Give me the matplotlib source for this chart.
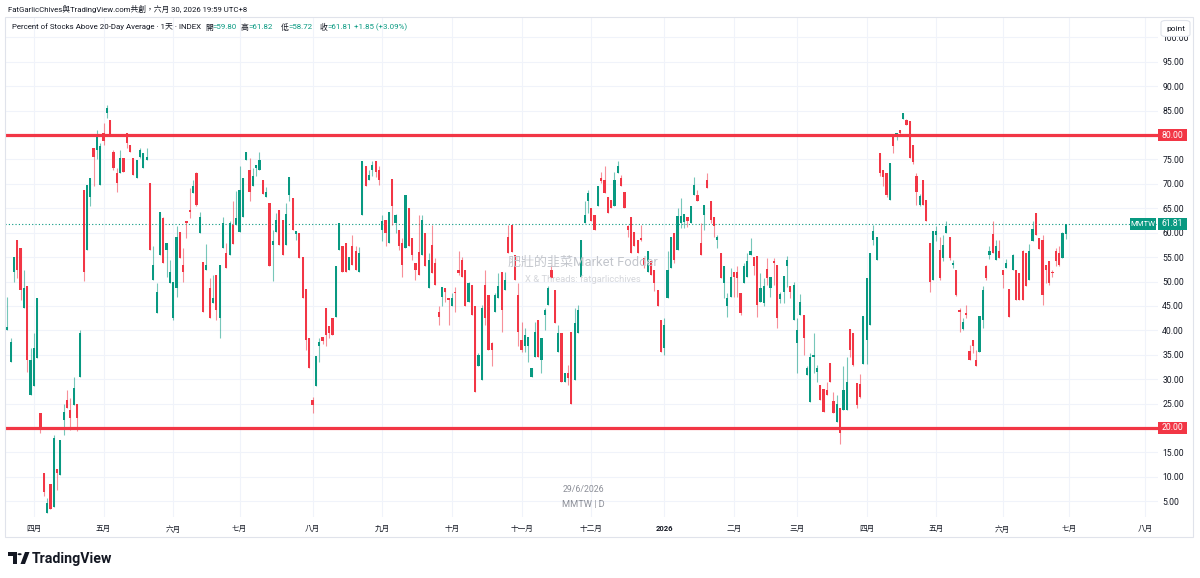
import numpy as np
import matplotlib
matplotlib.use('Agg')
import matplotlib.pyplot as plt
from matplotlib.patches import Rectangle, FancyBboxPatch, Polygon, Circle
from matplotlib.ticker import FixedLocator, FuncFormatter

# ---------------- data ----------------
opens = [
    40.0, 33.6, 52.0, 58.5, 56.8, 44.5, 49.0, 26.8, 28.5, 34.3,
    23.0, 10.7, 2.5, 8.6, 3.8, 11.7, 10.3, 21.6, 25.7, 23.7,
    24.7, 25.0, 30.5, 68.8, 56.5, 67.4, 77.3, 77.0, 69.8, 80.4,
    84.5, 83.1, 76.6, 72.2, 72.2, 75.3, 80.4, 78.0, 75.3, 71.2,
    75.6, 73.2, 74.9, 70.2, 50.3, 43.5, 55.5, 63.0, 56.5, 49.6,
    42.5, 48.6, 60.2, 53.4, 62.4, 64.7, 68.1, 72.2, 59.9, 53.9,
    52.4, 48.6, 45.5, 51.4, 42.5, 56.9, 55.8, 55.5, 61.6, 61.6,
    60.2, 63.3, 74.9, 72.9, 69.5, 73.2, 72.9, 70.8, 67.4, 66.1,
    57.5, 60.2, 64.7, 62.6, 57.5, 67.8, 67.1, 59.8, 59.9, 55.1,
    48.4, 38.4, 25.7, 28.5, 36.7, 38.7, 44.5, 40.8, 42.5, 42.8,
    56.5, 57.2, 57.9, 52.4, 57.2, 56.2, 51.9, 63.7, 73.6, 70.8,
    72.9, 74.6, 72.9, 60.6, 62.6, 57.9, 71.0, 62.0, 60.6, 57.9,
    56.9, 65.0, 58.9, 53.8, 56.0, 55.5, 59.9, 48.6, 57.5, 53.8,
    43.8, 46.9, 48.6, 46.6, 44.9, 47.9, 52.4, 54.4, 52.4, 45.9,
    49.3, 44.9, 32.6, 29.8, 49.3, 47.3, 37.4, 43.8, 46.6, 52.0,
    48.3, 59.2, 61.6, 55.5, 47.3, 38.0, 36.7, 36.7, 30.5, 34.6,
    42.1, 33.9, 43.2, 45.2, 52.4, 48.3, 35.6, 39.4, 29.5, 31.2,
    39.7, 29.8, 39.4, 51.0, 62.0, 66.4, 65.0, 63.7, 65.4, 71.2,
    70.8, 67.4, 66.7, 65.4, 72.2, 71.2, 68.4, 61.4, 63.3, 60.2,
    58.5, 58.9, 54.8, 52.0, 54.1, 52.4, 48.3, 42.1, 36.3, 46.6,
    52.7, 59.9, 56.5, 62.0, 62.2, 63.3, 61.9, 67.8, 67.8, 57.9,
    63.7, 70.8, 66.4, 63.3, 58.5, 55.8, 49.6, 44.9, 46.9, 52.0,
    52.0, 47.6, 49.6, 51.0, 55.5, 55.1, 55.3, 45.9, 45.5, 52.6,
    48.6, 54.1, 53.3, 46.4, 47.9, 53.1, 49.0, 42.1, 37.5, 43.1,
    43.2, 30.9, 25.4, 34.6, 31.5, 28.8, 28.0, 27.8, 33.4, 25.6,
    21.3, 24.0, 23.7, 23.7, 40.2, 39.4, 29.2, 29.0, 33.2, 38.0,
    41.1, 58.5, 54.4, 76.3, 72.9, 72.2, 66.7, 79.7, 79.7, 81.1,
    83.3, 83.1, 82.8, 78.0, 71.7, 65.7, 70.8, 66.7, 57.9, 50.3,
    59.6, 56.5, 54.8, 59.9, 59.2, 53.4, 52.4, 44.2, 40.2, 43.6,
    35.8, 38.0, 33.9, 35.6, 42.1, 53.1, 55.5, 59.8, 54.4, 56.3,
    52.3, 52.7, 48.4, 52.4, 52.4, 51.7, 56.2, 55.8, 50.3, 58.2,
    64.0, 58.9, 58.5, 53.4, 54.1, 52.0, 56.2, 55.8, 54.8, 59.80]

highs = [
    46.9, 38.4, 55.1, 58.5, 56.8, 52.4, 49.0, 36.3, 39.4, 46.6,
    23.0, 10.7, 5.6, 8.6, 18.6, 11.7, 17.5, 25.0, 27.8, 26.1,
    30.5, 25.0, 40.1, 68.8, 69.8, 71.2, 77.3, 81.1, 78.4, 82.5,
    86.2, 83.1, 77.0, 73.2, 77.0, 75.3, 80.4, 78.0, 75.3, 74.9,
    77.3, 76.3, 77.3, 70.2, 57.2, 49.6, 64.3, 63.3, 57.9, 54.4,
    50.0, 61.3, 60.2, 56.8, 62.4, 69.1, 70.8, 72.5, 64.3, 53.9,
    57.7, 50.7, 51.4, 51.4, 53.4, 63.3, 57.9, 62.3, 66.4, 68.5,
    73.6, 71.2, 76.6, 75.3, 73.2, 73.9, 76.6, 70.8, 69.3, 66.1,
    60.6, 64.0, 64.7, 62.6, 66.1, 71.4, 67.1, 60.3, 59.9, 55.1,
    48.4, 38.4, 26.4, 34.8, 38.4, 38.7, 44.5, 40.8, 42.5, 53.1,
    62.0, 57.2, 57.9, 55.1, 59.6, 57.2, 57.1, 74.6, 73.6, 72.9,
    74.6, 74.6, 73.6, 63.7, 62.6, 64.3, 71.0, 63.9, 60.6, 58.9,
    67.8, 65.0, 58.9, 53.8, 63.7, 63.7, 59.9, 55.8, 61.6, 54.8,
    44.9, 48.8, 48.6, 46.6, 47.6, 48.9, 56.2, 55.1, 52.4, 50.0,
    49.3, 44.9, 35.3, 45.2, 52.4, 47.3, 37.7, 47.6, 51.7, 52.0,
    52.0, 61.6, 61.6, 55.5, 49.6, 41.8, 40.4, 38.7, 32.2, 41.8,
    42.1, 38.4, 44.5, 49.0, 53.4, 48.3, 41.1, 39.4, 31.2, 32.9,
    39.7, 44.5, 45.2, 58.5, 66.4, 68.8, 65.0, 63.7, 69.5, 72.5,
    73.6, 67.4, 66.7, 72.5, 74.6, 71.9, 68.4, 61.6, 63.3, 60.2,
    58.5, 61.6, 54.8, 56.2, 54.1, 52.4, 48.3, 42.1, 42.5, 56.2,
    59.2, 59.9, 65.0, 67.1, 63.8, 63.3, 65.5, 71.5, 68.8, 62.0,
    65.7, 72.2, 66.4, 63.3, 59.6, 55.8, 53.1, 47.6, 52.7, 52.0,
    53.1, 47.6, 53.8, 55.8, 58.9, 55.1, 55.3, 51.8, 50.7, 54.8,
    51.0, 54.8, 53.3, 47.9, 51.1, 55.3, 49.0, 50.0, 42.5, 47.4,
    43.2, 32.6, 35.3, 39.4, 32.9, 28.8, 28.0, 29.5, 33.4, 27.4,
    26.8, 24.0, 32.6, 34.6, 40.2, 39.4, 29.2, 31.1, 43.0, 50.8,
    55.9, 61.6, 59.1, 76.3, 72.9, 72.2, 74.3, 79.7, 80.4, 81.1,
    84.5, 83.3, 82.8, 78.0, 72.2, 68.0, 70.8, 66.7, 57.9, 60.3,
    61.4, 59.2, 59.6, 62.3, 59.2, 54.4, 52.4, 44.5, 42.5, 45.2,
    37.0, 38.0, 35.9, 43.0, 49.0, 53.4, 57.3, 62.3, 58.5, 58.5,
    52.3, 54.6, 48.4, 55.7, 52.4, 51.7, 56.4, 55.8, 57.7, 62.3,
    64.0, 58.9, 59.5, 53.4, 54.1, 52.4, 56.8, 57.2, 60.2, 61.82]

lows = [
    40.0, 33.6, 50.0, 50.7, 46.2, 44.5, 31.5, 26.8, 28.5, 34.3,
    18.9, 6.0, 2.5, 3.5, 3.8, 7.3, 10.3, 18.6, 24.0, 19.6,
    24.7, 19.3, 30.5, 50.2, 56.5, 65.4, 69.5, 75.0, 69.8, 78.0,
    83.5, 80.1, 72.9, 68.4, 72.2, 72.5, 77.3, 76.6, 71.9, 71.2,
    75.3, 73.2, 74.9, 56.5, 50.3, 43.5, 55.5, 53.8, 51.0, 49.6,
    42.2, 46.9, 54.8, 50.0, 58.9, 63.0, 68.1, 65.4, 59.9, 43.8,
    52.4, 42.5, 45.5, 42.1, 38.4, 56.9, 52.7, 55.5, 57.6, 61.6,
    60.2, 63.3, 74.9, 66.4, 69.5, 71.7, 72.9, 68.0, 67.3, 53.2,
    50.1, 60.2, 57.5, 55.5, 57.5, 66.4, 60.6, 58.5, 54.8, 46.6,
    36.0, 32.2, 23.1, 28.5, 33.6, 37.2, 36.7, 38.4, 39.1, 42.8,
    56.5, 52.0, 52.0, 52.4, 53.4, 52.4, 51.9, 63.7, 69.5, 70.8,
    71.7, 71.5, 69.8, 58.2, 57.2, 57.9, 61.6, 59.9, 56.5, 51.0,
    56.9, 57.2, 54.4, 50.3, 51.4, 55.5, 53.1, 48.6, 51.7, 49.3,
    41.1, 44.9, 45.9, 41.1, 44.9, 43.8, 51.4, 51.0, 44.9, 45.9,
    43.2, 27.4, 32.6, 29.8, 41.1, 36.0, 32.6, 43.8, 46.6, 39.7,
    48.3, 55.8, 56.0, 50.3, 36.7, 35.6, 35.6, 33.6, 30.5, 34.6,
    34.6, 31.2, 40.1, 45.2, 50.7, 41.5, 35.6, 29.5, 29.5, 28.8,
    25.0, 29.8, 39.4, 51.0, 62.0, 64.0, 62.3, 60.6, 65.4, 70.2,
    68.1, 64.0, 65.0, 65.4, 72.2, 69.5, 65.0, 59.2, 55.8, 57.2,
    55.8, 58.2, 52.7, 52.0, 51.4, 48.0, 44.9, 35.6, 34.9, 46.6,
    52.7, 53.8, 56.5, 60.9, 60.9, 61.2, 61.9, 67.8, 66.4, 55.5,
    60.6, 69.1, 62.0, 59.2, 56.8, 50.7, 46.6, 42.8, 46.9, 46.9,
    46.9, 43.2, 49.6, 51.0, 55.5, 51.4, 42.8, 45.9, 44.9, 49.3,
    46.9, 49.3, 40.4, 45.5, 45.5, 48.9, 46.6, 42.1, 31.2, 43.1,
    35.0, 30.9, 25.4, 31.2, 29.5, 25.7, 23.3, 26.8, 29.5, 23.0,
    21.3, 16.8, 23.7, 23.7, 34.6, 32.6, 24.0, 26.1, 33.2, 33.2,
    41.1, 57.5, 54.4, 71.7, 69.5, 67.4, 66.7, 76.3, 79.0, 79.7,
    83.3, 82.1, 75.3, 74.1, 65.7, 65.5, 65.7, 62.3, 47.9, 50.3,
    58.2, 50.3, 54.1, 59.9, 54.4, 52.7, 47.1, 39.7, 40.1, 42.5,
    33.9, 35.3, 32.6, 35.6, 40.4, 50.3, 54.6, 55.8, 54.4, 54.8,
    48.6, 52.7, 42.8, 52.4, 46.2, 46.2, 46.2, 49.0, 50.3, 58.2,
    59.6, 56.6, 45.2, 49.6, 49.3, 51.0, 53.1, 53.2, 54.8, 58.72]

closes = [
    40.6, 37.6, 55.1, 52.4, 48.3, 48.6, 33.9, 33.9, 36.3, 46.6,
    19.5, 6.9, 4.7, 3.5, 17.9, 10.7, 17.5, 23.3, 24.0, 22.0,
    28.1, 22.0, 39.4, 52.0, 69.8, 71.2, 75.6, 79.7, 77.7, 78.7,
    85.5, 80.1, 73.2, 70.2, 75.3, 72.5, 78.4, 76.6, 71.9, 74.9,
    77.0, 76.3, 75.6, 56.5, 53.4, 47.9, 64.3, 53.8, 57.9, 52.0,
    50.0, 59.2, 54.8, 52.0, 62.0, 64.3, 69.5, 65.7, 63.3, 43.8,
    53.4, 42.5, 46.6, 44.2, 53.4, 62.0, 52.7, 62.0, 57.6, 63.0,
    68.8, 71.2, 76.6, 68.4, 71.7, 73.9, 74.9, 68.0, 68.4, 53.2,
    58.2, 62.6, 57.5, 55.5, 63.8, 71.4, 60.6, 60.3, 54.8, 46.6,
    38.0, 32.2, 24.7, 34.8, 37.6, 37.9, 39.1, 39.4, 39.1, 53.1,
    62.0, 52.0, 52.0, 55.1, 53.4, 52.4, 55.8, 74.6, 69.5, 71.9,
    73.9, 72.5, 70.8, 62.3, 59.9, 64.3, 65.4, 63.7, 57.2, 53.4,
    67.8, 57.2, 55.5, 52.4, 51.4, 62.6, 53.1, 54.4, 51.7, 49.3,
    42.8, 48.8, 47.9, 46.2, 46.6, 47.6, 51.7, 51.0, 44.9, 49.6,
    43.2, 27.4, 35.0, 44.5, 42.5, 36.0, 36.0, 47.3, 49.0, 44.2,
    50.3, 55.8, 56.0, 50.3, 39.7, 36.0, 39.1, 38.7, 32.2, 39.7,
    34.6, 38.4, 44.2, 48.6, 50.7, 41.5, 39.4, 29.5, 31.2, 30.2,
    25.0, 41.5, 44.2, 58.5, 63.7, 68.1, 62.3, 60.6, 69.5, 70.5,
    68.1, 64.0, 65.0, 70.8, 73.6, 69.5, 65.0, 60.6, 55.8, 57.2,
    55.8, 58.4, 53.4, 56.2, 51.4, 49.6, 44.9, 35.6, 41.1, 52.4,
    59.2, 54.4, 63.5, 63.5, 63.8, 62.3, 65.5, 69.8, 66.4, 55.5,
    65.7, 69.1, 62.6, 61.3, 59.2, 50.7, 53.1, 46.6, 51.0, 51.0,
    50.8, 43.5, 53.2, 54.1, 56.2, 53.1, 45.2, 48.6, 49.0, 50.7,
    51.0, 53.8, 42.5, 47.4, 51.1, 54.4, 47.9, 49.3, 40.1, 45.9,
    38.4, 32.2, 34.6, 35.0, 32.2, 25.7, 23.3, 26.8, 29.5, 23.0,
    25.0, 18.9, 27.8, 29.5, 36.0, 32.9, 24.7, 26.4, 42.9, 50.8,
    55.9, 60.4, 59.1, 72.2, 71.4, 67.8, 74.3, 77.7, 80.4, 80.4,
    84.5, 82.1, 75.3, 74.5, 68.4, 67.6, 65.7, 62.3, 49.8, 60.3,
    60.3, 50.7, 57.5, 61.3, 54.8, 53.8, 47.3, 43.8, 41.8, 43.2,
    33.9, 36.7, 32.6, 43.0, 48.3, 50.7, 56.2, 55.8, 57.2, 54.8,
    51.4, 53.8, 42.8, 55.5, 46.2, 46.2, 46.2, 49.0, 56.2, 60.7,
    59.6, 56.6, 47.3, 52.4, 49.6, 51.7, 54.1, 53.4, 59.96, 61.81]

# calendar: trading days before the first labelled month, then per month
days_before_first_label = 8
month_trading_days = [21, 21, 20, 22, 21, 21, 21, 21, 22, 21, 19, 21, 21, 20, 20, 23]
month_labels = ['四月', '五月', '六月', '七月', '八月', '九月', '十月', '十一月', '十二月',
                '2026', '二月', '三月', '四月', '五月', '六月', '七月', '八月']

price_ticks = [5, 10, 15, 20, 25, 30, 35, 40, 45, 50, 55, 60, 65, 70, 75, 80, 85, 90, 95, 100]
level_lines = [80.0, 20.0]
last_open, last_high, last_low, last_close = 59.80, 61.82, 58.72, 61.81
change, change_pct = 1.85, 3.09

header_text = 'FatGarlicChives與TradingView.com共創，六月 30, 2026 19:59 UTC+8'
series_title = 'Percent of Stocks Above 20-Day Average · 1天 · INDEX'
symbol = 'MMTW'
watermark_1 = '肥壯的韭菜Market Fodder'
watermark_2 = 'X & Threads: fatgarlicchives'
date_stamp = '29/6/2026'
symbol_stamp = 'MMTW | D'

# ---------------- style ----------------
FONT = ['Roboto', 'Noto Sans CJK TC', 'DejaVu Sans']
plt.rcParams['font.family'] = FONT
GREEN = '#089981'
RED = '#f23645'
TXT = '#131722'
GRID = '#f0f3fa'

W, H = 1200, 578
fig = plt.figure(figsize=(12, 5.78), dpi=100)
fig.patch.set_facecolor('white')


def fx(x):
    return x / W


def fy(y):
    return 1 - y / H


def fit(t, width_px):
    r = fig.canvas.get_renderer()
    w = t.get_window_extent(r).width
    t.set_fontsize(t.get_fontsize() * width_px / w)
    return t


# ---------------- main pane ----------------
X0, X1, Y0, Y1 = 5, 1158, 17, 517
ax = fig.add_axes([fx(X0), fy(Y1), (X1 - X0) / W, (Y1 - Y0) / H])
STEP, FIRST = 3.318, 7.3
ax.set_xlim((X0 - FIRST) / STEP, (X1 - FIRST) / STEP)
ax.set_ylim(1.77, 104.17)
for s in ax.spines.values():
    s.set_visible(False)

o = np.array(opens)
c = np.array(closes)
h = np.maximum(np.array(highs), np.maximum(o, c))
l = np.minimum(np.array(lows), np.minimum(o, c))
idx = np.arange(len(o))
cols = np.where(c >= o, GREEN, RED)

ax.vlines(idx, l, h, colors=cols, linewidth=0.8, alpha=0.55, zorder=3)
bottom = np.minimum(o, c)
height = np.maximum(np.abs(c - o), 0.3)
ax.bar(idx, height, bottom=bottom, width=0.66, color=cols, linewidth=0, zorder=4)

for lv in level_lines:
    ax.axhline(lv, color=RED, linewidth=2.3, zorder=5)
ax.axhline(last_close, color=GREEN, linewidth=0.8, linestyle=(0, (1, 2)), zorder=2)

# ticks / grid
starts = np.cumsum([days_before_first_label] + month_trading_days)
ax.xaxis.set_major_locator(FixedLocator(starts))
ax.set_xticklabels(month_labels)
ax.yaxis.set_major_locator(FixedLocator(price_ticks))
ax.yaxis.set_major_formatter(FuncFormatter(lambda v, p: '' if v in level_lines else f'{v:.2f}'))
ax.yaxis.tick_right()
ax.grid(True, color=GRID, linewidth=0.8)
ax.set_axisbelow(True)
ax.tick_params(axis='y', length=0, pad=3.0, labelsize=6.2, labelcolor=TXT)
ax.tick_params(axis='x', length=0, pad=5.6, labelsize=5.5, labelcolor=TXT)
for t in ax.get_xticklabels():
    if t.get_text().isdigit():
        t.set_fontweight('bold')

# price scale badges
ytr = ax.get_yaxis_transform()
bw = 29 / (X1 - X0)
bh = 12 / 500 * (104.17 - 1.77)
for lv in level_lines:
    ax.add_patch(Rectangle((1.0, lv - bh / 2), bw, bh, transform=ytr, facecolor=RED,
                           edgecolor='none', clip_on=False, zorder=10))
    ax.text(1.0 + bw / 2, lv, f'{lv:.2f}', transform=ytr, ha='center', va='center',
            color='white', fontsize=6.2, clip_on=False, zorder=11)
ax.add_patch(Rectangle((1.0, last_close - bh / 2), bw, bh, transform=ytr, facecolor=GREEN,
                       edgecolor='none', clip_on=False, zorder=10))
ax.text(1.0 + bw / 2, last_close, f'{last_close:.2f}', transform=ytr, ha='center', va='center',
        color='white', fontsize=6.2, clip_on=False, zorder=11)
mw = 26 / (X1 - X0)
ax.add_patch(Rectangle((1.0 - mw - 2 / (X1 - X0), last_close - bh / 2), mw, bh, transform=ytr,
                       facecolor=GREEN, edgecolor='none', clip_on=False, zorder=10))
ax.text(1.0 - mw / 2 - 2 / (X1 - X0), last_close, symbol, transform=ytr, ha='center',
        va='center', color='white', fontsize=5.6, clip_on=False, zorder=11)

# outer border
fig.patches.append(Rectangle((fx(5), fy(537)), (1193 - 5) / W, (537 - 17) / H,
                             transform=fig.transFigure, fill=False, edgecolor='#e0e3eb',
                             linewidth=0.8))

# "point" button
fig.patches.append(FancyBboxPatch((fx(1161), fy(36.5)), 29 / W, 16 / H,
                                  boxstyle='round,pad=0,rounding_size=0.004',
                                  transform=fig.transFigure, facecolor='white',
                                  edgecolor='#e0e3eb', linewidth=0.8, zorder=20))
fig.text(fx(1175.5), fy(28.5), 'point', ha='center', va='center', fontsize=6.0,
         color=TXT, zorder=21)

# ---------------- texts ----------------
t = fig.text(fx(8), fy(9), header_text, ha='left', va='center', color=TXT, fontsize=7)
fit(t, 240)

t0 = fig.text(fx(11.5), fy(27), series_title, ha='left', va='center', color=TXT, fontsize=7)
fit(t0, 189.5)
fs = t0.get_fontsize()
r = fig.canvas.get_renderer()
pieces = [(205, '開', f'={last_open:.2f}'), (241, '高', f'={last_high:.2f}'),
          (281, '低', f'={last_low:.2f}'), (320, '收', f'={last_close:.2f}')]
for xp, lab, val in pieces:
    a = fig.text(fx(xp), fy(27), lab, ha='left', va='center', color=TXT, fontsize=fs)
    bb = a.get_window_extent(r)
    fig.text(bb.x1 / W, fy(27), val, ha='left', va='center', color=GREEN, fontsize=fs)
fig.text(fx(354), fy(27), f'+{change:.2f} (+{change_pct:.2f}%)', ha='left', va='center',
         color=GREEN, fontsize=fs)

w1 = fig.text(fx(582.5), fy(262), watermark_1, ha='center', va='center', color='#c3c6cc',
              fontsize=10, zorder=1)
fit(w1, 149)
w2 = fig.text(fx(582.5), fy(280), watermark_2, ha='center', va='center', color='#d4d6db',
              fontsize=7, zorder=1)
fit(w2, 117)
d1 = fig.text(fx(583), fy(489), date_stamp, ha='center', va='center', color='#8c8f98', fontsize=6.5)
fit(d1, 42)
d2 = fig.text(fx(583), fy(505), symbol_stamp, ha='center', va='center', color='#8c8f98', fontsize=6.5)
fit(d2, 43)

# TradingView logo
def poly(pts, **kw):
    fig.patches.append(Polygon([(fx(x), fy(y)) for x, y in pts], closed=True,
                               transform=fig.transFigure, **kw))

poly([(8, 552), (17, 552), (17, 564), (13, 564), (13, 556), (8, 556)], facecolor=TXT, edgecolor='none')
fig.patches.append(Circle((fx(19.6), fy(554.2)), 2.1 / W, transform=fig.transFigure,
                          facecolor=TXT, edgecolor='none'))
poly([(20.5, 564), (25, 552), (29.5, 552), (25, 564)], facecolor=TXT, edgecolor='none')
lg = fig.text(fx(32), fy(558.5), 'TradingView', ha='left', va='center', color=TXT,
              fontsize=10, fontweight='bold')
fit(lg, 80)

fig.savefig('out.png', dpi=100, facecolor='white')
